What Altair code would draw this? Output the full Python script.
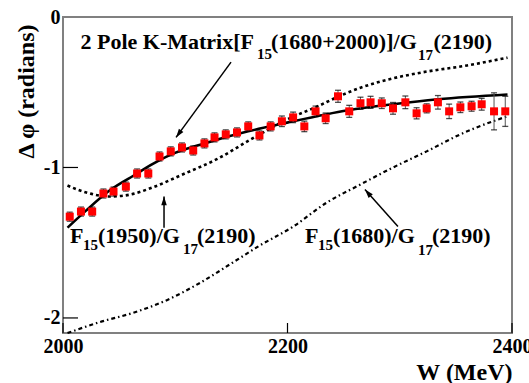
import altair as alt
import pandas as pd

FONT = "Liberation Serif"

# ---- measured data points ----
W_pts = [2006, 2016, 2026, 2036, 2045, 2056, 2066, 2076, 2086, 2096,
         2106, 2116, 2126, 2135, 2145, 2155, 2165, 2175, 2185, 2195,
         2205, 2215, 2225, 2234, 2245, 2255, 2265, 2274, 2284, 2294,
         2305, 2315, 2324, 2334, 2344, 2354, 2364, 2373, 2384, 2394]
phi_pts = [-1.327, -1.293, -1.293, -1.173, -1.160, -1.127, -1.040, -1.040, -0.927, -0.893,
           -0.867, -0.887, -0.840, -0.800, -0.780, -0.767, -0.727, -0.787, -0.727, -0.693,
           -0.667, -0.727, -0.627, -0.673, -0.527, -0.627, -0.573, -0.567, -0.573, -0.607,
           -0.567, -0.640, -0.607, -0.567, -0.627, -0.600, -0.593, -0.580, -0.627, -0.627]
err_pts = [0.03, 0.03, 0.03, 0.03, 0.03, 0.03, 0.03, 0.03, 0.03, 0.03,
           0.03, 0.03, 0.03, 0.03, 0.03, 0.03, 0.03, 0.03, 0.03, 0.035,
           0.035, 0.035, 0.035, 0.035, 0.04, 0.04, 0.04, 0.04, 0.035, 0.039,
           0.042, 0.037, 0.03, 0.045, 0.048, 0.035, 0.033, 0.039, 0.123, 0.10]

# ---- model curves ----
W_kmat = [2004, 2020, 2042, 2066, 2078, 2096, 2126, 2165, 2195, 2254, 2294, 2334, 2396]
phi_kmat = [-1.40, -1.29, -1.15, -1.04, -0.985, -0.915, -0.84, -0.76, -0.71, -0.62, -0.58, -0.547, -0.515]

W_f1950 = [2004, 2020, 2042, 2060, 2079, 2107, 2137, 2167, 2200, 2227, 2245, 2265, 2290, 2320, 2360, 2396]
phi_f1950 = [-1.12, -1.165, -1.193, -1.18, -1.135, -1.045, -0.945, -0.815, -0.68, -0.593, -0.53, -0.47, -0.415, -0.368, -0.322, -0.27]

W_f1680 = [2004, 2033, 2062, 2093, 2122, 2151, 2175, 2205, 2235, 2265, 2294, 2324, 2354, 2383, 2396]
phi_f1680 = [-2.10, -2.027, -1.967, -1.88, -1.767, -1.633, -1.52, -1.393, -1.233, -1.113, -1.0, -0.893, -0.78, -0.693, -0.66]

# ---- annotation pieces (main text and subscripts) ----
main_text = ["2 Pole K-Matrix[F", "(1680+2000)]/G", "(2190)",
             "F", "(1950)/G", "(2190)",
             "F", "(1680)/G", "(2190)"]
main_W = [2015.6, 2185.3, 2330.1,
          2006.2, 2031.2, 2119.4,
          2215.6, 2240.5, 2328.7]
main_phi = [-0.21, -0.21, -0.21,
            -1.504, -1.504, -1.504,
            -1.502, -1.502, -1.502]

sub_text = ["15", "17", "15", "17", "15", "17"]
sub_W = [2172.8, 2316.3, 2017.8, 2106.9, 2227.2, 2316.3]
sub_phi = [-0.28, -0.285, -1.548, -1.575, -1.548, -1.582]

# ---- arrows ----
arr_W0 = [2149.7, 2090.0, 2298.4]
arr_phi0 = [-0.30, -1.40, -1.393]
arr_W1 = [2100.7, 2090.0, 2269.0]
arr_phi1 = [-0.80, -1.193, -1.147]
arr_angle = [216.3, 0.0, 318.3]

# ---- axis ticks ----
x_ticks = [2000, 2200, 2400]
y_ticks = [-2, -1, 0]
y_inner_ticks = [-2, -1]

pts = pd.DataFrame({"W": W_pts, "phi": phi_pts, "err": err_pts})
pts["lo"] = pts["phi"] - pts["err"]
pts["hi"] = pts["phi"] + pts["err"]

kmat = pd.DataFrame({"W": W_kmat, "phi": phi_kmat})
f1950 = pd.DataFrame({"W": W_f1950, "phi": phi_f1950})
f1680 = pd.DataFrame({"W": W_f1680, "phi": phi_f1680})
mains = pd.DataFrame({"W": main_W, "phi": main_phi, "t": main_text})
subs = pd.DataFrame({"W": sub_W, "phi": sub_phi, "t": sub_text})
arrows = pd.DataFrame({"W0": arr_W0, "p0": arr_phi0, "W1": arr_W1, "p1": arr_phi1, "ang": arr_angle})
xt = pd.DataFrame({"W": x_ticks})
yt = pd.DataFrame({"phi": y_inner_ticks})

xscale = alt.Scale(domain=[2000, 2400], nice=False, zero=False)
yscale = alt.Scale(domain=[-2.1, 0.0], nice=False, zero=False)

xaxis = alt.Axis(values=x_ticks, title="W (MeV)", ticks=False, domain=False, grid=False,
                 labelExpr="replace(format(datum.value, 'd'), '\u2212', '-')",
                 labelFont=FONT, labelFontWeight="bold", labelFontSize=20, labelColor="black",
                 labelPadding=3, labelFlush=False, labelOverlap=False,
                 titleFont=FONT, titleFontWeight="bold", titleFontSize=24, titleColor="black",
                 titleAnchor="end", titleAlign="right", titleX=449, titleY=46, titleBaseline="alphabetic")
yaxis = alt.Axis(values=y_ticks, title="Δ φ (radians)", ticks=False, domain=False, grid=False,
                 labelExpr="replace(format(datum.value, 'd'), '\u2212', '-')",
                 labelFont=FONT, labelFontWeight="bold", labelFontSize=20, labelColor="black",
                 labelPadding=3, labelFlush=False, labelOverlap=False, labelBaseline="middle",
                 titleFont=FONT, titleFontWeight="bold", titleFontSize=24, titleColor="black",
                 titleAngle=270, titleAlign="right", titleBaseline="middle", titleX=-37, titleY=7)


def X(f="W:Q"):
    return alt.X(f, scale=xscale, axis=xaxis)


def Y(f="phi:Q"):
    return alt.Y(f, scale=yscale, axis=yaxis)


line_kmat = alt.Chart(kmat).mark_line(color="black", strokeWidth=2.6, interpolate="monotone").encode(x=X(), y=Y())
line_1950 = alt.Chart(f1950).mark_line(color="black", strokeWidth=2.6, strokeDash=[3, 3],
                                       interpolate="monotone").encode(x=X(), y=Y())
line_1680 = alt.Chart(f1680).mark_line(color="black", strokeWidth=2.2, strokeDash=[4, 3, 1.5, 3],
                                       interpolate="monotone").encode(x=X(), y=Y())

ebar = alt.Chart(pts).mark_rule(color="#555555", strokeWidth=1).encode(x=X(), y=Y("lo:Q"), y2="hi:Q")
cap_lo = alt.Chart(pts).mark_tick(color="black", orient="horizontal", size=6, thickness=1.3).encode(
    x=X(), y=Y("lo:Q"))
cap_hi = alt.Chart(pts).mark_tick(color="black", orient="horizontal", size=6, thickness=1.3).encode(
    x=X(), y=Y("hi:Q"))
squares = alt.Chart(pts).mark_square(size=64, color="#ff0000", opacity=1, filled=True).encode(x=X(), y=Y())

txt_main = alt.Chart(mains).mark_text(font=FONT, fontWeight="bold", fontSize=22, align="left",
                                      baseline="alphabetic", color="black").encode(x=X(), y=Y(), text="t:N")
txt_sub = alt.Chart(subs).mark_text(font=FONT, fontWeight="bold", fontSize=15, align="left",
                                    baseline="alphabetic", color="black").encode(x=X(), y=Y(), text="t:N")

arr_lines = alt.Chart(arrows).mark_rule(color="black", strokeWidth=1.5).encode(
    x=X("W0:Q"), y=Y("p0:Q"), x2="W1:Q", y2="p1:Q")
arr_heads = alt.Chart(arrows).mark_point(shape="M0,0 L-0.32,1 L0.32,1 Z", filled=True, color="black",
                                         size=300, opacity=1).encode(
    x=X("W1:Q"), y=Y("p1:Q"), angle=alt.Angle("ang:Q", scale=None))

xtick_marks = alt.Chart(xt).mark_rule(color="black", strokeWidth=1.2).encode(
    x=X(), y=alt.value(316), y2=alt.value(306))
ytick_marks = alt.Chart(yt).mark_rule(color="black", strokeWidth=1.2).encode(
    y=Y(), x=alt.value(0), x2=alt.value(15))

chart = alt.layer(
    line_kmat, line_1950, line_1680, ebar, cap_lo, cap_hi, squares,
    arr_lines, arr_heads, txt_main, txt_sub, xtick_marks, ytick_marks
).properties(
    width=449, height=316,
    autosize=alt.AutoSizeParams(type="none"),
    padding={"left": 63, "top": 17, "right": 17, "bottom": 50},
    background="white",
).configure_view(stroke="#808080", strokeWidth=2).configure_axis(labelOverlap=False)

chart.save("out.html", embed_options={"renderer": "svg", "actions": False})
